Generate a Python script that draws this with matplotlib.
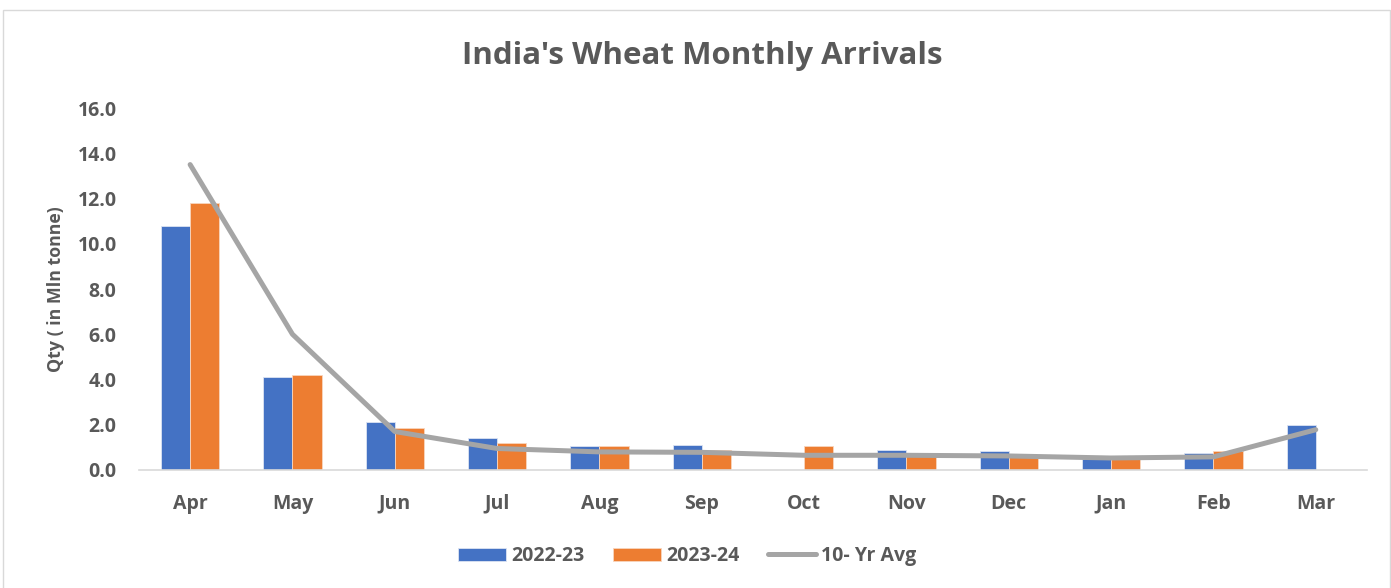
import matplotlib
matplotlib.use("Agg")
import matplotlib.pyplot as plt
from matplotlib.patches import Rectangle
import numpy as np

months = ["Apr", "May", "Jun", "Jul", "Aug", "Sep", "Oct", "Nov", "Dec", "Jan", "Feb", "Mar"]
s2022_23 = [10.8, 4.1, 2.1, 1.4, 1.05, 1.1, 0.0, 0.9, 0.85, 0.5, 0.75, 2.0]
s2023_24 = [11.8, 4.2, 1.85, 1.2, 1.05, 0.9, 1.05, 0.65, 0.6, 0.5, 0.85, 0.0]
avg10 = [13.5, 6.0, 1.7, 0.95, 0.8, 0.78, 0.65, 0.65, 0.62, 0.53, 0.58, 1.78]
yticks = [0, 2, 4, 6, 8, 10, 12, 14, 16]

TXT = "#595959"
FONT = ["Open Sans", "DejaVu Sans"]
plt.rcParams["font.family"] = FONT

fig = plt.figure(figsize=(13.91, 5.88), dpi=100)
fig.patches.append(Rectangle((0.002, -0.01), 0.997, 0.993, transform=fig.transFigure,
                             fill=False, edgecolor="#D9D9D9", linewidth=1.0))
ax = fig.add_axes([0.0999, 0.2007, 0.8828, 0.6156])

x = np.arange(len(months))
w = 0.285
b1 = ax.bar(x - w / 2, s2022_23, width=w, color="#4472C4", edgecolor="#DCE4F2", linewidth=0.6, label="2022-23", zorder=2)
b2 = ax.bar(x + w / 2, s2023_24, width=w, color="#ED7D31", edgecolor="#F8D5BE", linewidth=0.6, label="2023-24", zorder=2)
ln, = ax.plot(x, avg10, color="#A5A5A5", linewidth=3.6, solid_capstyle="round", label="10- Yr Avg", zorder=3)

ax.set_xlim(-0.5, len(months) - 0.5)
ax.set_ylim(0, 16)
ax.set_yticks(yticks)
ax.set_yticklabels([f"{v:.1f}" for v in yticks])
ax.set_xticks(x)
ax.set_xticklabels(months)
for lab in ax.get_xticklabels() + ax.get_yticklabels():
    lab.set_fontweight("bold")
    lab.set_color(TXT)
    lab.set_fontsize(14)
ax.tick_params(axis="both", length=0)
ax.tick_params(axis="x", pad=17)
ax.tick_params(axis="y", pad=16)
for s in ["top", "right", "left"]:
    ax.spines[s].set_visible(False)
ax.spines["bottom"].set_color("#D9D9D9")
ax.spines["bottom"].set_linewidth(1.2)

ax.set_ylabel("Qty ( in Mln tonne)", fontsize=12.8, fontweight="bold", color=TXT, labelpad=9)

fig.text(0.505, 0.905, "India's Wheat Monthly Arrivals", ha="center", va="center",
         fontsize=22.5, fontweight="bold", color=TXT)

leg = fig.legend(handles=[b1, b2, ln], loc="center", bbox_to_anchor=(0.494, 0.054), ncol=3, frameon=False,
                 prop={"weight": "bold", "size": 14}, handlelength=2.5, handleheight=0.7,
                 columnspacing=1.45, handletextpad=0.25)
for t in leg.get_texts():
    t.set_color(TXT)

fig.savefig("out.png", dpi=100)
